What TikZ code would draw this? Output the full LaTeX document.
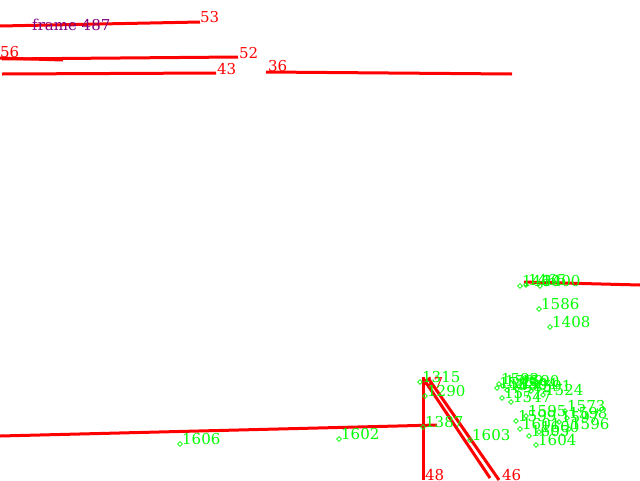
\documentclass[tikz,border=0pt]{standalone}
\usepackage{fontspec}
\setmainfont{DejaVu Serif}
\usepackage{tikz}
\usetikzlibrary{shapes.geometric,positioning}
\definecolor{segred}{RGB}{255,0,0}
\definecolor{ptgreen}{RGB}{0,255,0}
\definecolor{frmpurple}{RGB}{128,0,128}

\begin{document}
\begin{tikzpicture}[x=1pt,y=-1pt,
  seg/.style={draw=segred,line width=3pt},
  rlbl/.style={anchor=base west,inner sep=0pt,text=segred,font=\fontsize{15}{15}\selectfont},
  glbl/.style={anchor=base west,inner sep=0pt,text=ptgreen,font=\fontsize{15}{15}\selectfont},
  kpt/.style={diamond,draw=ptgreen,line width=0.8pt,inner sep=0pt,minimum size=5pt},
]
  \useasboundingbox (0,0) rectangle (640,480);
  % detected segments
  \coordinate (a53) at (0,26);    \coordinate (b53) at (200,22);
  \coordinate (a56) at (0,58);    \coordinate (b56) at (63,60);
  \coordinate (a52) at (2,59);    \coordinate (b52) at (238,57);
  \coordinate (a43) at (2,74);    \coordinate (b43) at (216,73);
  \coordinate (a36) at (266,72);  \coordinate (b36) at (512,74);
  \coordinate (aR) at (524,282);  \coordinate (bR) at (640,285);
  \coordinate (aB) at (0,436);    \coordinate (bB) at (437,425);
  \coordinate (a48) at (423,377); \coordinate (b48) at (423,480);
  \coordinate (a47) at (423,378); \coordinate (b47) at (490,478);
  \coordinate (a46) at (428,378); \coordinate (b46) at (499,480);
  \foreach \n in {53,56,52,43,36,R,B,48,47,46} {
    \draw[seg] (a\n) -- (b\n);
  }
  \node[rlbl] (n53) at (b53) {53};
  \node[rlbl] (n56) at (0,57) {56};
  \node[rlbl] (n52) at (239,58) {52};
  \node[rlbl] (n43) at (217,74) {43};
  \node[rlbl] (n36) at (268,71) {36};
  \node[rlbl] (n47) at (424,388) {47};
  \node[rlbl] (n48) at (425,480) {48};
  \node[rlbl] (n46) at (502,480) {46};
  \node[anchor=base west,inner sep=0pt,text=frmpurple,font=\fontsize{15}{15}\selectfont] (frm) at (32,30) {frame 487};
  % tracked points
  \foreach \x/\y/\t in {
    181/444/1606, 340/439/1602, 471/440/1603, 421/382/1315, 426/396/1290,
    424/427/1387, 540/309/1586, 551/327/1408,
    521/286/1460, 527/285/1465, 541/286/1400,
    500/384/1592, 504/386/1589, 498/388/1593, 508/390/1580, 518/389/1594,
    532/391/1591, 544/395/1524, 503/398/1577, 512/402/1547, 520/386/1590,
    527/416/1595, 566/411/1573, 517/421/1599, 568/418/1598, 560/422/1597,
    521/429/1601, 540/432/1600, 570/429/1596, 537/445/1604, 530/436/1605} {
    \node[kpt] (k\t) at (\x-1,\y) {};
    \node[glbl] (g\t) at (\x+1,\y) {\t};
  }
\end{tikzpicture}
\end{document}
